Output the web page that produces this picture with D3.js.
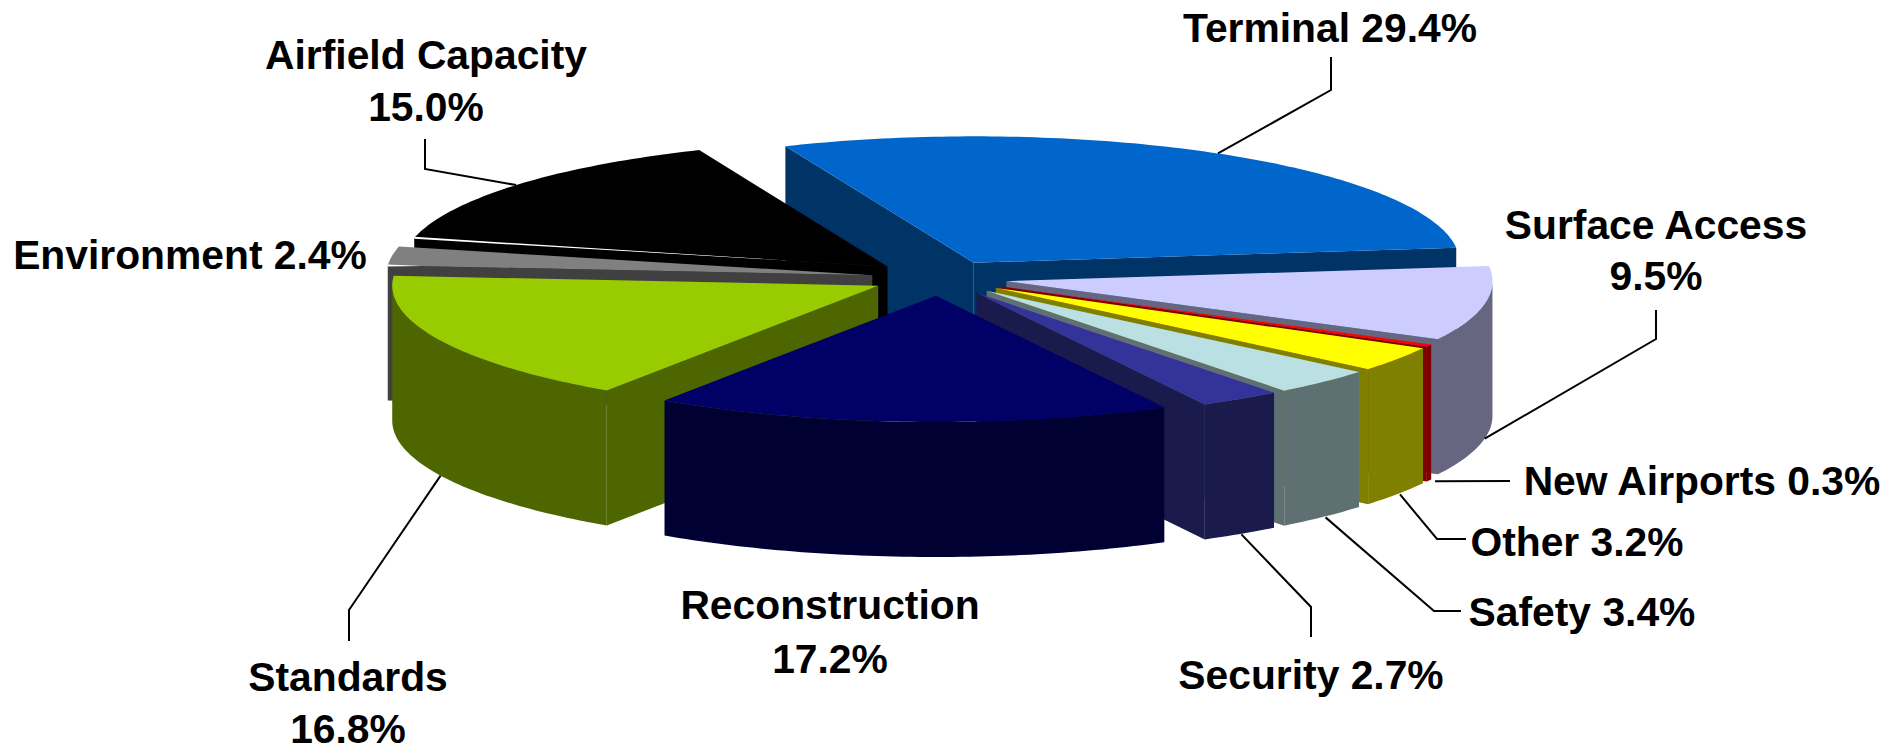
<!DOCTYPE html>
<html><head><meta charset="utf-8">
<script src="https://cdn.jsdelivr.net/npm/d3@7"></script>
<style>html,body{margin:0;background:#fff}svg{display:block}
text{font-family:"Liberation Sans",Arial,sans-serif;font-weight:700;font-size:40.8px;fill:#000;text-anchor:middle}</style>
</head><body><svg id="c" width="1886" height="747"></svg>
<script>
// --- data ---
const categories = ["Terminal","Surface Access","New Airports","Other","Safety","Security","Reconstruction","Standards","Environment","Airfield Capacity"];
const values = [29.4,9.5,0.3,3.2,3.4,2.7,17.2,16.8,2.4,15.0];
const topColors = ["#0066CC","#CCCCFF","#FF0000","#FFFF00","#BBE0E3","#333399","#000066","#99CC00","#808080","#000000"];
const sideColors = ["#003366","#666680","#800000","#808000","#5E7072","#1A1A4D","#000033","#4D6600","#404040","#000000"];
// --- layout ---
const W=1886,H=747, CX=939.5, CY=278, R=486, TILT=0.26, DEPTH=135, EXPLODE=0.14;
const START_ANGLE=-22.8*Math.PI/180;
const drawOrder=[0,9,8,7,1,2,3,4,5,6];
const labelLines=[
 [["Terminal 29.4%",1330,27]],
 [["Surface Access",1656,224],["9.5%",1656,275]],
 [["New Airports 0.3%",1702,480]],
 [["Other 3.2%",1577,541]],
 [["Safety 3.4%",1582,611]],
 [["Security 2.7%",1311,674]],
 [["Reconstruction",830,604],["17.2%",830,658]],
 [["Standards",348,676],["16.8%",348,728]],
 [["Environment 2.4%",190,254]],
 [["Airfield Capacity",426,54],["15.0%",426,106]]
];
const leaderElbows=[
 [[1331,90],[1331,57]],
 [[1656,339],[1656,310]],
 [[1510,481]],
 [[1437,539],[1466,539]],
 [[1434,611],[1461,611]],
 [[1311,607],[1311,637]],
 null,
 [[349,610],[349,641]],
 null,
 [[425,169],[425,139]]
];
const leaderRimGap=[1,1,1.014,1.006,1.006,1.004,1,1,1,1];
// thin white highlight on the leading radial edge: share of the edge, from the rim
const edgeHighlight={9:0.8,8:0.07};

const svg=d3.select("#c");
const sx=d3.scaleLinear().domain([-1,1]).range([CX-R,CX+R]);
const sy=d3.scaleLinear().domain([-1,1]).range([CY+R*TILT,CY-R*TILT]);
const arcs=d3.pie().sort(null).startAngle(START_ANGLE).endAngle(START_ANGLE+2*Math.PI)(values);
const line=d3.line();

function geom(a){
  const mid=(a.startAngle+a.endAngle)/2, ox=EXPLODE*Math.sin(mid), oy=EXPLODE*Math.cos(mid);
  const pt=(t,r=1)=>[sx(ox+r*Math.sin(t)),sy(oy+r*Math.cos(t))];
  const sample=(t0,t1)=>{const n=Math.max(2,Math.ceil(Math.abs(t1-t0)/(Math.PI/180)));
    return d3.range(n+1).map(i=>pt(t0+(t1-t0)*i/n));};
  return {mid,pt,sample};
}
const down=p=>[p[0],p[1]+DEPTH];
function wallPoly(top){return top.concat(top.slice().reverse().map(down));}

const g=svg.append("g");
drawOrder.forEach(i=>{
  const a=arcs[i], {pt,sample}=geom(a), s=g.append("g");
  const apex=pt(0,0);
  const face=(t,sign)=>{
    if(Math.cos(t+sign*Math.PI/2)<0){
      s.append("path").attr("d",line(wallPoly([apex,pt(t)]))+"Z").attr("fill",sideColors[i]);
    }};
  face(a.startAngle,-1); face(a.endAngle,1);
  const t0=a.startAngle,t1=a.endAngle;
  const lo=Math.max(t0,Math.PI/2), hi=Math.min(t1,3*Math.PI/2);
  if(hi>lo) s.append("path").attr("d",line(wallPoly(sample(lo,hi)))+"Z").attr("fill",sideColors[i]);
  s.append("path").attr("d",line([apex].concat(sample(t0,t1)))+"Z").attr("fill",topColors[i]);
  if(edgeHighlight[i]){ // tapered sliver that fades toward the apex
    const r0=pt(t0), r1=pt(t0,1-edgeHighlight[i]);
    s.append("path").attr("d",line([[r0[0],r0[1]-1],[r0[0],r0[1]+1],r1])+"Z").attr("fill","#fff");
  }
});

categories.forEach((c,i)=>{
  if(!leaderElbows[i])return;
  const a=arcs[i],{mid,pt}=geom(a);
  const p=Math.cos(mid)<0?down(pt(mid,leaderRimGap[i])):pt(mid,leaderRimGap[i]);
  svg.append("path").attr("d",line([p].concat(leaderElbows[i]))).attr("fill","none").attr("stroke","#000").attr("stroke-width",2);
});
labelLines.forEach(ls=>ls.forEach(l=>{
  svg.append("text").attr("x",l[1]).attr("y",l[2]).attr("dy","0.36em").text(l[0]);
}));
</script></body></html>
